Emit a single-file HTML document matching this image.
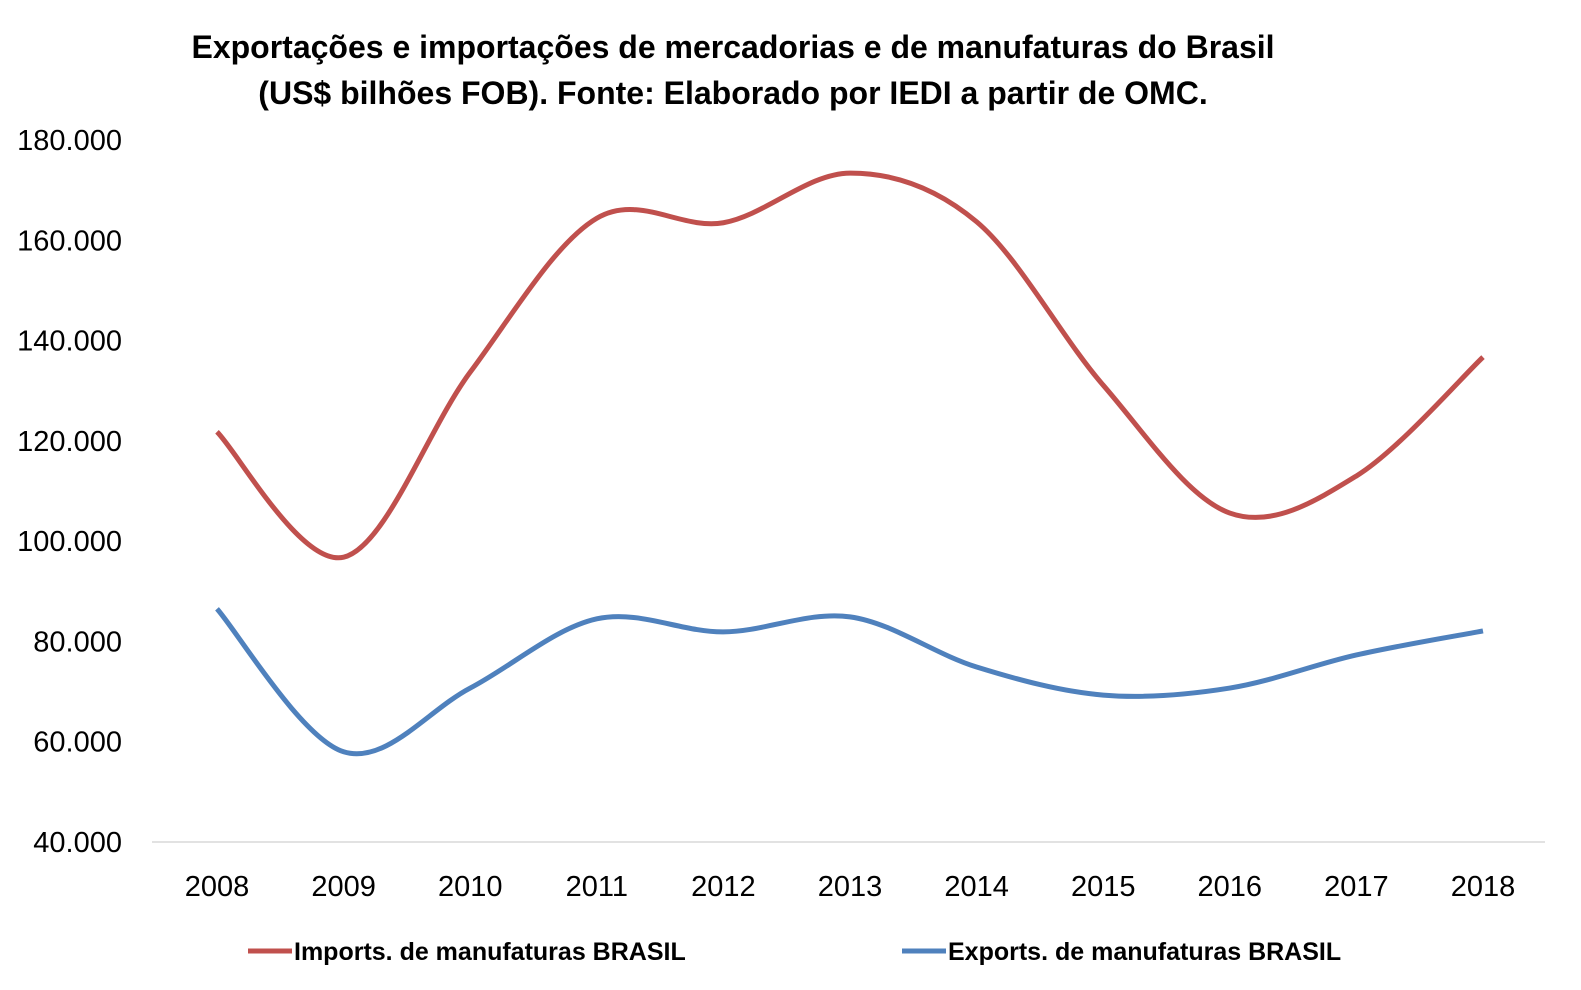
<!DOCTYPE html>
<html><head><meta charset="utf-8">
<style>
html,body{margin:0;padding:0;background:#fff;}
body{width:1581px;height:985px;overflow:hidden;font-family:"Liberation Sans",sans-serif;}
svg text{font-family:"Liberation Sans",sans-serif;}
</style></head><body>
<svg id="chart" width="1581" height="985" viewBox="0 0 1581 985" xmlns="http://www.w3.org/2000/svg">
<text x="733" y="58" text-anchor="middle" font-size="32" font-weight="bold" fill="#000">Exportações e importações de mercadorias e de manufaturas do Brasil</text>
<text x="733" y="104" text-anchor="middle" font-size="32" font-weight="bold" fill="#000">(US$ bilhões FOB). Fonte: Elaborado por IEDI a partir de OMC.</text>
<line x1="152" y1="842" x2="1545" y2="842" stroke="#d9d9d9" stroke-width="1.5"/>
<g id="yticks"></g>
<g id="xticks"></g>
<g id="series"></g>
<g>
<line x1="248" y1="951" x2="292" y2="951" stroke="#c0504d" stroke-width="5"/>
<text x="294" y="960" font-size="25" font-weight="bold">Imports. de manufaturas BRASIL</text>
<line x1="902" y1="951" x2="946" y2="951" stroke="#4f81bd" stroke-width="5"/>
<text x="948" y="960" font-size="25" font-weight="bold">Exports. de manufaturas BRASIL</text>
</g>
</svg>
<script>
const years = ["2008","2009","2010","2011","2012","2013","2014","2015","2016","2017","2018"];
const imports = [121.8,96.8,133.7,164.4,163.5,173.4,163.7,131.1,105.6,113.0,136.7];
const exports_ = [86.5,58.0,70.7,84.5,81.9,84.9,74.9,69.3,70.7,77.3,82.1];
const yTicks = [40,60,80,100,120,140,160,180];
const yTickLabels = ["40.000","60.000","80.000","100.000","120.000","140.000","160.000","180.000"];

const NS="http://www.w3.org/2000/svg";
const yMin=40,yMax=180,yTop=140,yBot=842,xFirst=217,xLast=1483;
function yScale(v){return yBot-(v-yMin)/(yMax-yMin)*(yBot-yTop);}
function xScale(i){return xFirst+i*(xLast-xFirst)/(years.length-1);}

const yg=document.getElementById('yticks');
yTicks.forEach((t,i)=>{
  const el=document.createElementNS(NS,'text');
  
  
  el.setAttribute('x',122);el.setAttribute('y',yScale(t)+10);
  el.setAttribute('text-anchor','end');el.setAttribute('font-size','29');
  el.textContent=yTickLabels[i];yg.appendChild(el);
});
const xg=document.getElementById('xticks');
years.forEach((yr,i)=>{
  const el=document.createElementNS(NS,'text');
  
  
  el.setAttribute('x',xScale(i));el.setAttribute('y',896);
  el.setAttribute('text-anchor','middle');el.setAttribute('font-size','29');
  el.textContent=yr;xg.appendChild(el);
});
function smoothPath(vals){
  const p=vals.map((v,i)=>[xScale(i),yScale(v)]);
  let d=`M${p[0][0]},${p[0][1]}`;
  for(let i=0;i<p.length-1;i++){
    const p0=p[i-1]||p[i],p1=p[i],p2=p[i+1],p3=p[i+2]||p[i+1];
    const c1=[p1[0]+(p2[0]-p0[0])/6,p1[1]+(p2[1]-p0[1])/6];
    const c2=[p2[0]-(p3[0]-p1[0])/6,p2[1]-(p3[1]-p1[1])/6];
    d+=` C${c1[0]},${c1[1]} ${c2[0]},${c2[1]} ${p2[0]},${p2[1]}`;
  }
  return d;
}
const sg=document.getElementById('series');
const imp=document.createElementNS(NS,'path');


imp.setAttribute('d',smoothPath(imports));imp.setAttribute('fill','none');
imp.setAttribute('stroke','#c0504d');imp.setAttribute('stroke-width','5');
sg.appendChild(imp);
const exp=document.createElementNS(NS,'path');


exp.setAttribute('d',smoothPath(exports_));exp.setAttribute('fill','none');
exp.setAttribute('stroke','#4f81bd');exp.setAttribute('stroke-width','5');
sg.appendChild(exp);
</script>
</body></html>
